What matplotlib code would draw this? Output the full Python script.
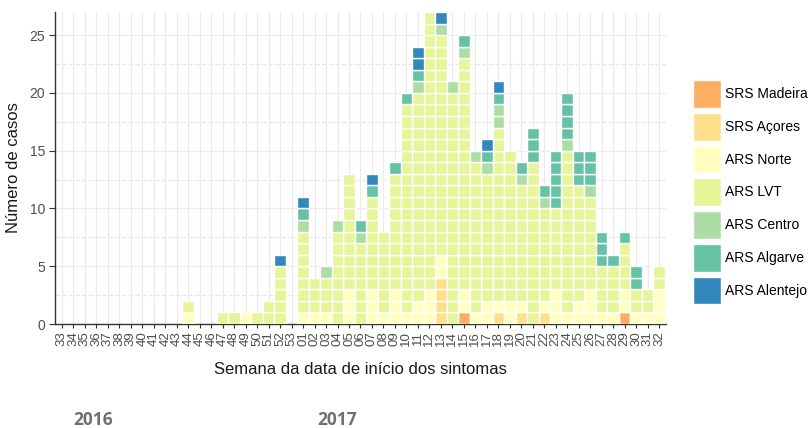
import matplotlib
matplotlib.use("Agg")
import matplotlib.pyplot as plt
from matplotlib.patches import Patch
import numpy as np

# ---- data ----
weeks_2016 = [str(w) for w in range(33, 54)]
weeks_2017 = ["%02d" % w for w in range(1, 33)]
weeks = weeks_2016 + weeks_2017

regions = ["SRS Madeira", "SRS Açores", "ARS Norte", "ARS LVT",
           "ARS Centro", "ARS Algarve", "ARS Alentejo"]
colors = ["#fdae61", "#fee08b", "#ffffbf", "#e6f598",
          "#abdda4", "#66c2a5", "#3288bd"]

madeira = [0]*21 + [0,0,0,0,0,0,0,0,0,0, 0,0,0,0,1,0,0,0,0,0, 0,0,0,0,0,0,0,0,1,0, 0,0]
acores  = [0]*21 + [0,0,0,0,0,0,0,0,0,0, 0,0,4,0,0,0,0,1,0,1, 0,1,0,0,0,0,0,0,0,0, 0,0]
norte   = [0,0,0,0,0,0,0,0,0,0,0,1,0,0,0,0,1,0,0,0,0] + \
          [1,1,1,0,3,0,3,1,3,1, 2,3,2,0,2,1,2,1,2,1, 0,1,3,1,2,3,1,1,2,1, 1,3]
lvt     = [0,0,0,0,0,0,0,0,0,0,0,1,0,0,1,1,0,1,2,5,0] + \
          [7,3,3,8,10,7,8,7,10,18, 18,24,19,20,20,13,11,15,13,10, 14,8,7,14,10,8,4,4,4,2, 2,2]
centro  = [0]*21 + [1,0,1,1,0,1,0,0,0,0, 1,0,1,1,1,1,1,2,0,1, 0,1,0,1,0,1,0,0,0,0, 0,0]
algarve = [0]*21 + [1,0,0,0,0,1,1,0,1,1, 1,0,0,0,1,0,1,1,0,1, 3,1,5,4,3,3,3,1,1,2, 0,0]
alentejo = [0]*19 + [1,0] + \
          [1,0,0,0,0,0,1,0,0,0, 2,0,1,0,0,0,1,1,0,0, 0,0,0,0,0,0,0,0,0,0, 0,0]

series = [madeira, acores, norte, lvt, centro, algarve, alentejo]

# ---- figure ----
fig = plt.figure(figsize=(8.11, 4.28), dpi=100)
ax = fig.add_axes([55/811, 1-324/428, (666-55)/811, (324-12)/428])

x = np.arange(len(weeks))
bottom = np.zeros(len(weeks))
for vals, col in zip(series, colors):
    vals = np.array(vals)
    for k in range(vals.max() if vals.max() > 0 else 0):
        m = vals > k
        ax.bar(x[m], 1, bottom=bottom[m] + k, width=1.0, color=col,
               edgecolor="white", linewidth=1.0, zorder=3)
    bottom += vals

ax.set_xlim(-0.6, len(weeks) - 0.4)
ax.set_ylim(0, 27)
ax.set_xticks(x)
ax.set_xticklabels(weeks, rotation=90, fontsize=9.5, color="#4d4d4d",
                   family="Liberation Sans")
ax.set_yticks([0, 5, 10, 15, 20, 25])
ax.set_yticks([2.5, 7.5, 12.5, 17.5, 22.5], minor=True)
ax.tick_params(axis="y", labelsize=10, labelcolor="#4d4d4d", length=4,
               color="#333333", pad=3)
ax.tick_params(axis="y", which="minor", length=0)
ax.tick_params(axis="x", length=3, color="#333333", pad=2)
for lab in ax.get_yticklabels():
    lab.set_family("Liberation Sans")

ax.grid(True, which="major", axis="both", color="#ebebeb", linewidth=0.8, zorder=0)
ax.grid(True, which="minor", axis="y", color="#e6e6e6", linewidth=0.8,
        linestyle=(0, (4, 2)), zorder=0)
ax.set_axisbelow(True)
for s in ["top", "right"]:
    ax.spines[s].set_visible(False)
for s in ["left", "bottom"]:
    ax.spines[s].set_color("#333333")
    ax.spines[s].set_linewidth(1.0)

ax.set_ylabel("Número de casos", fontsize=12, family="Liberation Sans",
              color="#1a1a1a", labelpad=6)
ax.set_xlabel("Semana da data de início dos sintomas", fontsize=12,
              family="Liberation Sans", color="#1a1a1a", labelpad=12)

handles = [Patch(facecolor=c, edgecolor="white", linewidth=1.0) for c in colors]
leg = fig.legend(handles, regions, loc="upper left",
                 bbox_to_anchor=(686/811, 1-73/428), frameon=False,
                 borderpad=0, handlelength=2.0, handleheight=2.7,
                 handletextpad=0.3, labelspacing=0.36,
                 prop={"family": "Liberation Sans", "size": 10})

fig.text(93/811, 1-420/428, "2016", fontsize=12.5, fontweight="bold",
         color="#707070", family="Open Sans", ha="center", va="center")
fig.text(337/811, 1-420/428, "2017", fontsize=12.5, fontweight="bold",
         color="#707070", family="Open Sans", ha="center", va="center")

fig.savefig("out.png", dpi=100)
